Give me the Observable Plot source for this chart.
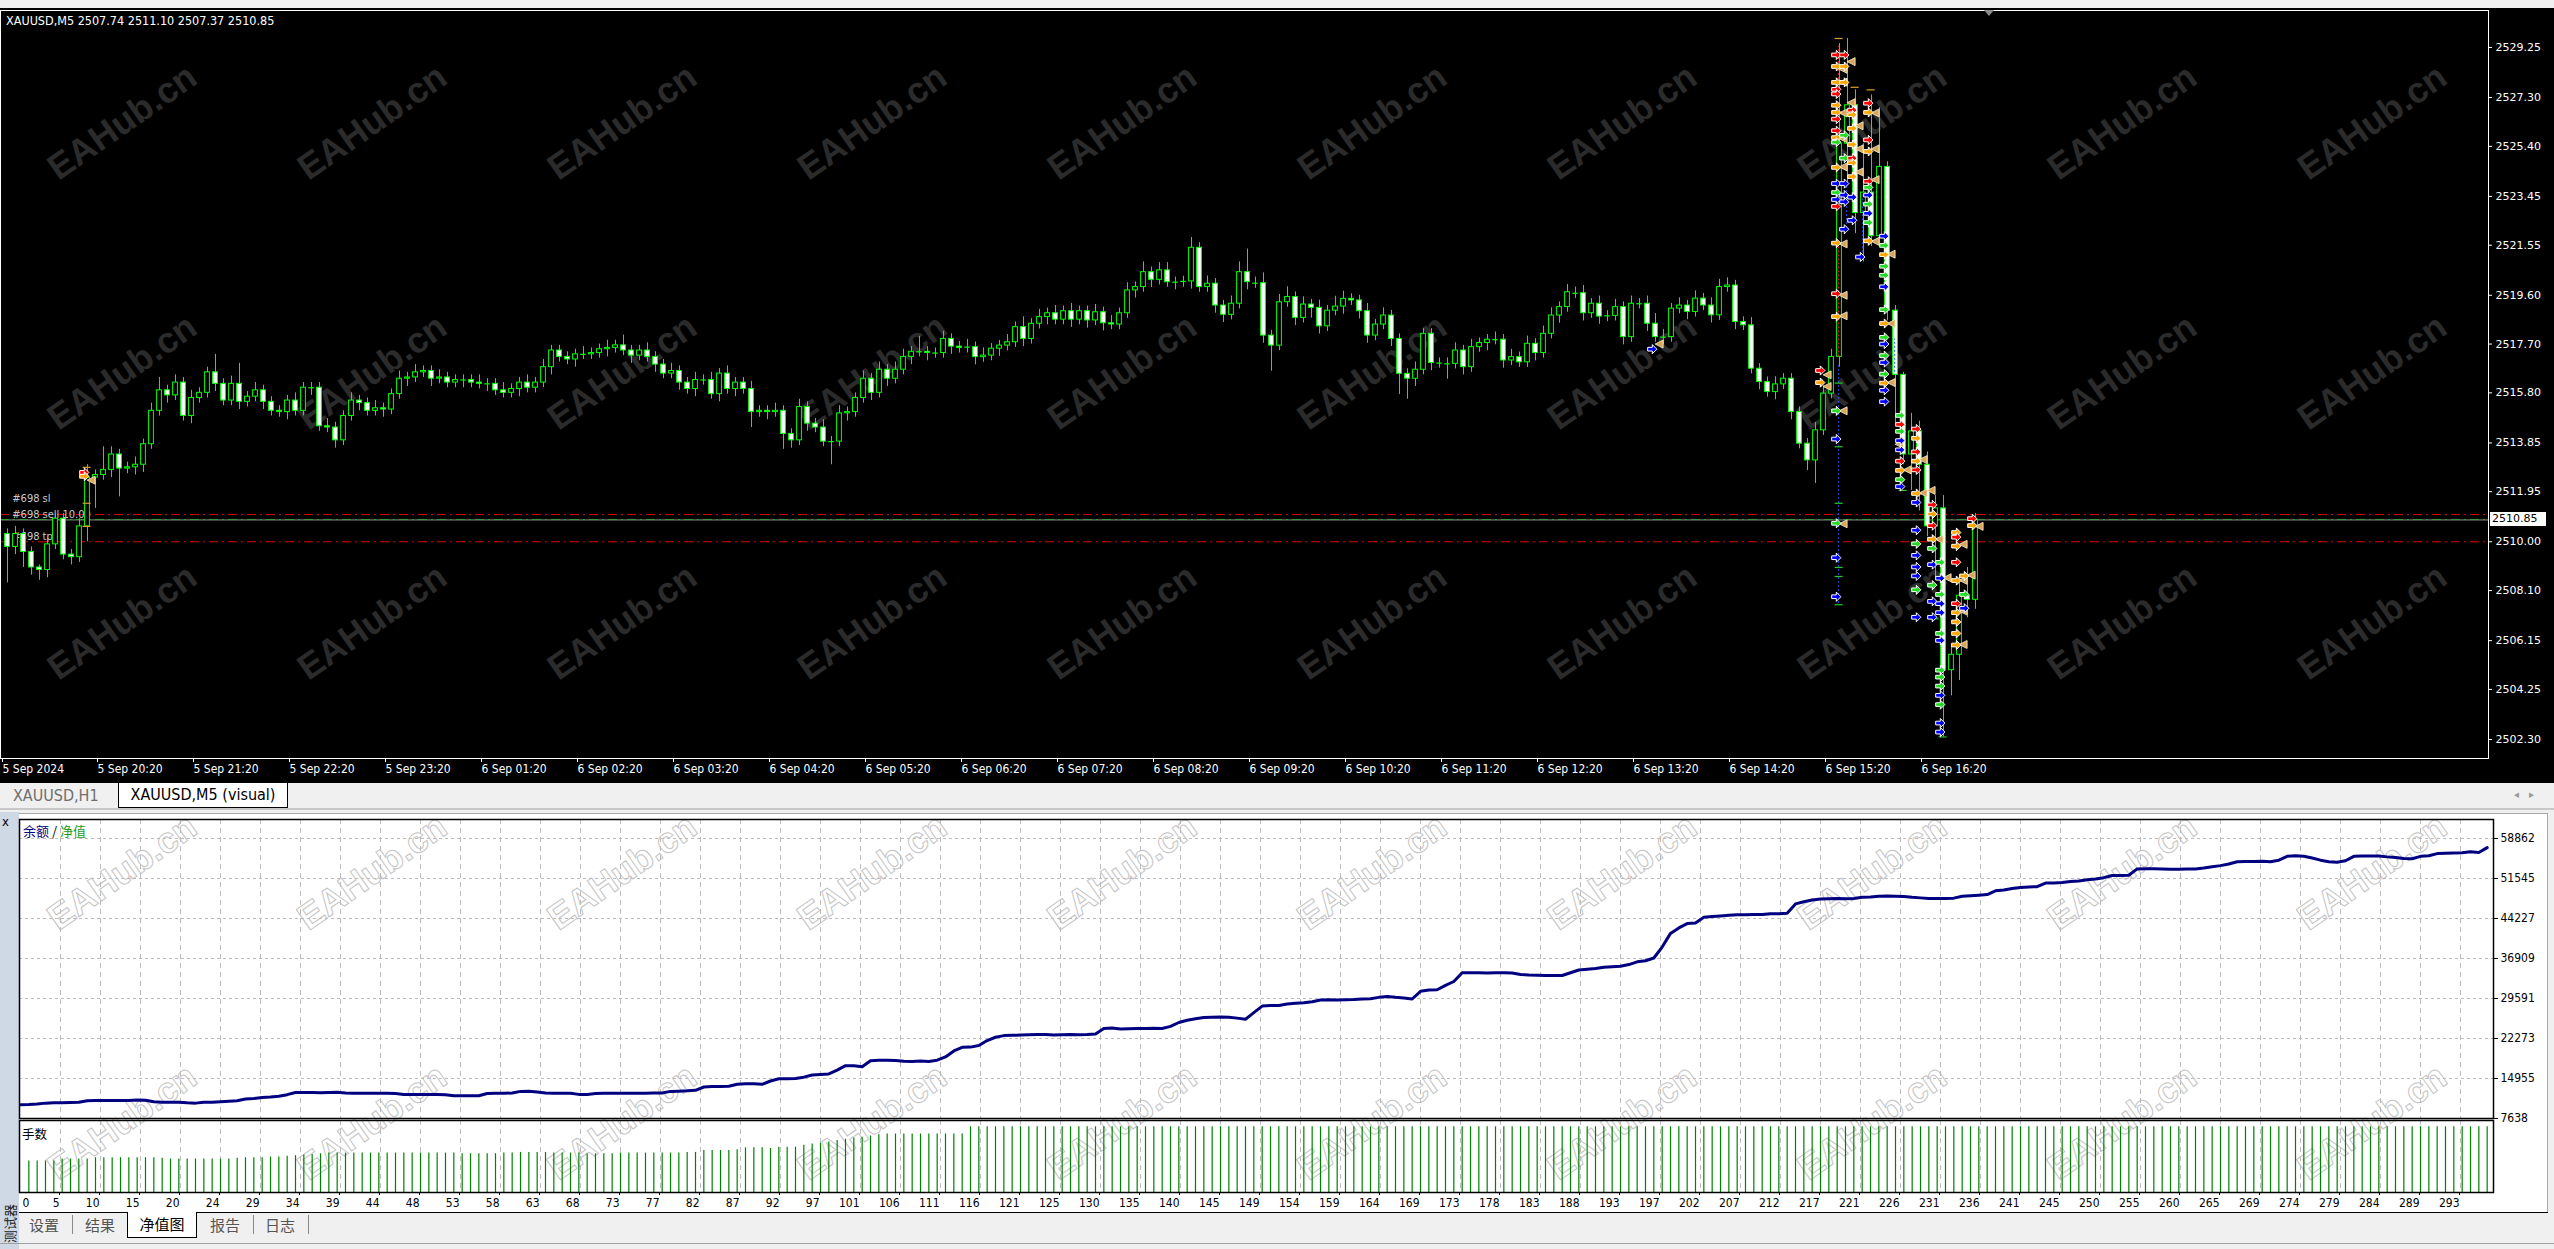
<!DOCTYPE html>
<html>
<head>
<meta charset="utf-8">
<script src="https://cdn.jsdelivr.net/npm/d3@7"></script>
<script src="https://cdn.jsdelivr.net/npm/@observablehq/plot@0.6"></script>
<style>
  body { margin: 0; width: 2554px; height: 1249px; overflow: hidden; background: #f0f0f0; position: relative;
         font-family: "DejaVu Sans Condensed", "DejaVu Sans", sans-serif; }
  .abs { position: absolute; white-space: nowrap; }
  .cjk { font-family: "Noto Sans CJK SC", sans-serif; }
  .wm { position: absolute; font-family: "Liberation Sans", Arial, sans-serif; font-weight: bold; font-size: 36px;
        transform: translate(-50%, -50%) rotate(-35deg); pointer-events: none; white-space: nowrap; }
</style>
</head>
<body>
<script>
const COND = "DejaVu Sans Condensed, DejaVu Sans, sans-serif";

// ---- price chart (XAUUSD M5) ----
const lastBar = [2507.74, 2511.10, 2507.37, 2510.85];
const firstOpen = 2510.30;
const closes = [
  2509.80, 2510.30, 2509.60, 2509.00, 2508.90, 2509.90, 2510.90, 2509.50, 2509.40, 2510.60,
  2512.50, 2512.60, 2512.80, 2513.40, 2512.85, 2512.90, 2513.00, 2513.80, 2515.10, 2515.90,
  2515.70, 2516.20, 2514.90, 2515.60, 2515.80, 2516.60, 2516.15, 2515.50, 2516.15, 2515.45,
  2515.65, 2515.90, 2515.45, 2515.10, 2515.05, 2515.50, 2515.10, 2516.00, 2516.00, 2514.50,
  2514.45, 2513.95, 2514.90, 2515.50, 2515.40, 2515.10, 2515.20, 2515.15, 2515.75, 2516.35,
  2516.40, 2516.60, 2516.65, 2516.35, 2516.40, 2516.20, 2516.30, 2516.30, 2516.20, 2516.15,
  2516.15, 2515.90, 2515.80, 2515.95, 2516.20, 2516.00, 2516.20, 2516.80, 2517.45, 2517.20,
  2517.10, 2517.30, 2517.30, 2517.35, 2517.50, 2517.55, 2517.65, 2517.45, 2517.25, 2517.45,
  2517.20, 2516.90, 2516.55, 2516.65, 2516.20, 2515.95, 2516.30, 2516.30, 2515.75, 2516.55,
  2515.95, 2516.20, 2515.95, 2515.05, 2515.10, 2515.05, 2515.10, 2514.20, 2513.95, 2515.25,
  2514.60, 2514.45, 2513.90, 2513.90, 2515.00, 2515.05, 2515.60, 2516.35, 2515.80, 2516.70,
  2516.35, 2516.70, 2517.20, 2517.40, 2517.40, 2517.35, 2517.35, 2517.90, 2517.60, 2517.55,
  2517.58, 2517.19, 2517.25, 2517.52, 2517.64, 2517.77, 2518.36, 2517.90, 2518.49, 2518.75,
  2518.90, 2518.65, 2518.98, 2518.65, 2518.98, 2518.62, 2518.94, 2518.51, 2518.46, 2518.90,
  2519.79, 2519.92, 2520.50, 2520.20, 2520.57, 2520.11, 2520.11, 2520.14, 2521.45, 2519.92,
  2520.05, 2519.20, 2518.84, 2519.27, 2520.50, 2520.11, 2520.07, 2518.03, 2517.64, 2519.33,
  2519.53, 2518.72, 2519.24, 2519.11, 2518.39, 2519.00, 2519.16, 2519.46, 2519.40, 2518.98,
  2518.03, 2518.46, 2518.81, 2517.90, 2516.54, 2516.35, 2516.70, 2518.10, 2516.96, 2516.96,
  2516.93, 2517.45, 2516.80, 2517.58, 2517.74, 2517.87, 2517.87, 2517.06, 2517.19, 2516.99,
  2517.71, 2517.35, 2518.10, 2518.81, 2519.14, 2519.72, 2519.68, 2518.90, 2519.27, 2518.77,
  2518.80, 2519.14, 2517.97, 2519.27, 2519.27, 2518.49, 2517.97, 2517.97, 2519.08, 2519.20,
  2518.95, 2519.47, 2519.20, 2518.82, 2519.92, 2519.98, 2518.56, 2518.43, 2516.74, 2516.22,
  2515.83, 2516.13, 2516.35, 2515.05, 2513.82, 2513.17, 2514.34, 2515.77, 2517.20, 2525.50,
  2527.00, 2522.80, 2523.60, 2521.90, 2524.60, 2519.00, 2516.50, 2513.40, 2514.30, 2513.00,
  2510.60, 2511.30, 2505.00, 2505.60, 2507.90, 2507.74, 2510.85
];
// wick lengths in tenths of a dollar above / below the body
const wickUp = [
  2,3,2,2,1,3,2,2,2,3, 5,2,9,3,2,2,3,2,3,5, 2,3,2,3,2,2,7,2,3,8, 2,3,2,2,2,2,3,2,2,2,
  3,2,2,3,2,2,3,2,2,3, 2,3,2,2,3,2,2,2,2,3, 2,2,3,2,2,3,2,3,2,2, 2,2,3,2,2,3,2,4,2,2,
  3,2,2,3,2,2,3,2,3,2, 3,2,2,3,2,2,3,2,2,3, 2,2,3,2,3,2,2,3,2,3, 2,3,3,2,6,2,2,3,2,2,
  3,2,3,2,2,3,2,4,2,3, 2,3,2,3,2,2,3,2,3,2, 3,2,4,2,3,3,2,2,4,2, 3,2,2,3,4,9,2,4,2,3,
  4,2,3,2,3,2,4,3,2,2, 3,2,3,2,2,2,3,2,2,2, 2,3,2,3,2,2,3,2,3,2, 3,2,3,3,2,3,2,3,2,3,
  2,3,2,3,2,3,4,3,2,3, 2,3,2,3,3,3,2,2,3,2, 2,3,2,2,2,2,3,3,3,39, 26,6,19,38,23,2,2,1,7,4,
  5,5,5,4,8,11,2.5
];
const wickDn = [
  14,3,6,3,4,3,2,2,3,2, 6,12,2,3,11,2,3,3,2,2, 3,2,2,3,2,2,3,2,2,3, 2,2,3,2,2,3,2,2,3,2,
  2,3,2,2,3,2,2,3,2,2, 3,2,2,3,2,2,2,3,2,2, 3,2,2,2,3,2,2,2,3,2, 2,3,2,2,2,3,2,2,3,2,
  2,3,2,2,3,2,3,2,2,3, 2,3,2,6,2,3,2,6,3,2, 3,2,2,9,2,3,2,2,3,2, 3,2,2,3,2,3,2,2,3,2,
  2,3,2,2,3,2,2,3,2,2, 3,2,2,3,2,3,2,3,2,2, 2,3,2,3,2,2,3,2,3,2, 2,3,3,2,2,3,2,3,10,2,
  2,3,2,4,3,2,2,3,2,3, 3,2,2,3,8,8,3,2,3,2, 6,2,3,2,2,3,2,3,2,2, 2,3,2,2,3,2,2,3,2,3,
  2,2,3,2,2,3,2,3,2,2, 3,2,2,3,2,2,3,2,2,3, 2,3,2,3,2,4,9,2,2,4, 15,8,19,4,3,4,19,4,14,18,
  4,20,26,10,10,7,3.7
];
const priceTicks = [2529.25, 2527.30, 2525.40, 2523.45, 2521.55, 2519.60, 2517.70, 2515.80,
  2513.85, 2511.95, 2510.00, 2508.10, 2506.15, 2504.25, 2502.30];
const timeTickIdx = [-0.875, 11, 23, 35, 47, 59, 71, 83, 95, 107, 119, 131, 143, 155, 167, 179, 191, 203, 215, 227, 239];
const timeLabels = ["5 Sep 2024", "5 Sep 20:20", "5 Sep 21:20", "5 Sep 22:20", "5 Sep 23:20", "6 Sep 01:20",
  "6 Sep 02:20", "6 Sep 03:20", "6 Sep 04:20", "6 Sep 05:20", "6 Sep 06:20", "6 Sep 07:20", "6 Sep 08:20",
  "6 Sep 09:20", "6 Sep 10:20", "6 Sep 11:20", "6 Sep 12:20", "6 Sep 13:20", "6 Sep 14:20", "6 Sep 15:20", "6 Sep 16:20"];
const slLevel = 2511.06, openLevel = 2510.87, tpLevel = 2510.00;
const orderLabels = [["#698 sl", 2511.06, -13], ["#698 sell 10.00", 2510.87, -1], ["#698 tp", 2510.00, -2]];

// trade arrows: [candle, price, kind]  r=sell open, b=buy open, g/o=closes
const arrows = [
  [10,2512.70,"r"],[10,2512.55,"o"],[206,2517.50,"b"],[227,2516.67,"r"],[227,2516.20,"o"],
  [229,2528.96,"r"],[229,2528.51,"o"],[229,2527.89,"o"],[229,2527.62,"r"],[229,2527.44,"r"],[229,2527.00,"o"],
  [229,2526.72,"o"],[229,2526.46,"r"],[229,2526.01,"r"],[229,2525.74,"o"],[229,2525.56,"g"],[229,2524.58,"o"],
  [229,2523.95,"b"],[229,2523.60,"g"],[229,2523.33,"b"],[229,2523.06,"r"],[229,2521.63,"o"],[229,2519.66,"r"],
  [229,2518.77,"o"],[229,2515.10,"g"],[229,2514.00,"b"],[229,2510.72,"g"],[229,2509.38,"b"],[229,2507.86,"b"],
  [230,2528.96,"r"],[230,2528.51,"o"],[230,2527.89,"o"],[230,2525.83,"g"],[230,2524.94,"g"],[230,2523.95,"b"],
  [230,2523.50,"b"],[230,2523.24,"b"],[230,2522.17,"b"],
  [231,2526.81,"r"],[231,2526.63,"o"],[231,2526.10,"o"],[231,2525.47,"o"],[231,2524.94,"r"],[231,2524.76,"o"],
  [231,2524.22,"o"],[231,2523.42,"b"],[231,2522.52,"b"],[232,2521.09,"b"],
  [233,2527.08,"r"],[233,2526.72,"o"],[233,2525.65,"r"],[233,2525.20,"o"],[233,2524.04,"r"],[233,2523.80,"g"],
  [233,2523.50,"b"],[233,2523.15,"g"],[233,2522.79,"b"],[233,2522.43,"g"],[233,2521.72,"o"],
  [235,2521.90,"b"],[235,2521.54,"g"],[235,2521.18,"o"],[235,2520.73,"g"],[235,2520.38,"g"],[235,2519.93,"b"],
  [235,2519.04,"g"],[235,2518.50,"o"],[235,2517.96,"g"],[235,2517.70,"b"],[235,2517.25,"g"],[235,2516.98,"b"],
  [235,2516.53,"g"],[235,2516.18,"o"],[235,2515.90,"b"],[235,2515.46,"b"],
  [237,2514.92,"g"],[237,2514.57,"r"],[237,2514.30,"g"],[237,2513.94,"b"],[237,2513.58,"b"],[237,2513.14,"r"],
  [237,2512.78,"o"],[237,2512.42,"g"],[237,2512.15,"b"],
  [239,2514.39,"r"],[239,2514.03,"o"],[239,2513.50,"r"],[239,2513.14,"o"],[239,2512.80,"r"],[239,2511.88,"o"],
  [239,2511.53,"b"],[239,2510.45,"b"],[239,2509.92,"g"],[239,2509.47,"b"],[239,2509.02,"b"],[239,2508.67,"b"],
  [239,2508.13,"g"],[239,2507.06,"b"],
  [241,2511.44,"r"],[241,2511.08,"o"],[241,2510.63,"r"],[241,2510.10,"o"],[241,2509.74,"g"],[241,2509.11,"b"],
  [241,2508.31,"g"],[241,2507.68,"b"],[241,2507.06,"b"],
  [242,2509.20,"g"],[242,2508.58,"b"],[242,2507.95,"g"],[242,2507.59,"b"],[242,2507.24,"b"],[242,2506.43,"g"],
  [242,2506.16,"b"],[242,2505.00,"g"],[242,2504.73,"g"],[242,2504.38,"g"],[242,2504.02,"b"],[242,2503.66,"g"],
  [242,2502.94,"b"],[242,2502.59,"b"],
  [244,2507.59,"r"],[244,2507.24,"o"],[244,2506.88,"o"],[244,2506.43,"o"],[244,2505.98,"o"],[244,2510.36,"o"],
  [244,2510.18,"r"],[244,2509.83,"o"],[244,2509.20,"r"],[244,2508.49,"o"],
  [245,2508.67,"o"],[245,2507.95,"g"],[245,2507.41,"b"],[246,2510.90,"r"],[246,2510.63,"o"]
];
const closeMarks = [
  [10,2512.40],[206,2517.70],[227,2516.50],[227,2516.05],[229,2528.40],[229,2527.90],[229,2526.70],[229,2525.70],
  [229,2524.60],[229,2521.60],[229,2519.60],[229,2518.80],[229,2515.10],[229,2510.70],[230,2528.70],[230,2527.10],
  [231,2526.20],[231,2525.30],[231,2524.40],[233,2526.70],[233,2525.30],[233,2524.10],[233,2521.70],[235,2521.20],
  [235,2518.50],[235,2516.20],[236,2513.80],[237,2512.80],[239,2513.20],[239,2511.90],[240,2512.00],[241,2510.10],
  [242,2508.60],[244,2507.30],[244,2506.00],[244,2509.90],[244,2508.50],[245,2508.70],[246,2510.60]
];
const tradeLines = [
  [229, 2507.6, 2516.9, "#2050ff"], [229, 2517.2, 2521.7, "#ff2020"], [229, 2528.0, 2529.3, "#ff2020"],
  [230, 2522.2, 2524.0, "#2050ff"], [232, 2521.1, 2523.5, "#2050ff"], [236, 2516.6, 2517.9, "#2050ff"]
];
const levelDashes = [
  [229,2516.18,"g"],[229,2513.70,"g"],[229,2511.50,"g"],[229,2509.00,"g"],[229,2508.65,"g"],[229,2507.55,"g"],
  [10,2511.50,"o"],[10,2510.60,"o"],[10,2512.90,"o"],[229,2529.60,"o"],[231,2527.70,"o"],[233,2527.60,"o"],
  [237,2512.00,"g"],[241,2507.00,"g"],[242,2502.40,"g"]
];

// ---- equity / balance chart ----
const balance = [
  10150,10200,10300,10450,10500,10520,10550,10600,10900,10940,
  10930,10930,10930,10950,11000,10980,10700,10620,10620,10600,
  10500,10450,10600,10620,10700,10800,10900,11200,11300,11500,
  11550,11700,12000,12400,12400,12380,12350,12400,12450,12300,
  12280,12280,12270,12270,12260,12200,12050,12030,12030,12020,
  12020,12000,11800,11790,11790,11800,12200,12250,12260,12300,
  12600,12640,12500,12300,12280,12280,12270,12050,12030,12200,
  12270,12270,12280,12270,12270,12280,12290,12300,12600,12640,
  12700,12800,13400,13500,13500,13550,13900,14000,13980,13900,
  14500,14900,14900,14950,15200,15600,15700,15800,16500,17300,
  17300,17100,18200,18300,18300,18250,18100,18050,18150,18050,
  18300,18900,20000,20650,20700,21000,21900,22500,22800,22850,
  22900,22950,23000,23000,22900,22950,23000,22950,23000,23100,
  24100,24200,24000,24050,24100,24100,24150,24100,24500,25200,
  25600,25900,26100,26150,26200,26150,26000,25800,27000,28200,
  28300,28300,28600,28700,28800,29000,29300,29350,29300,29350,
  29400,29500,29550,29800,29950,29800,29700,29500,30900,31150,
  31200,32000,32700,34300,34300,34300,34250,34300,34300,34250,
  34000,33900,33850,33800,33800,33800,34300,34800,34950,35100,
  35300,35400,35500,35800,36300,36500,37000,39000,41500,42500,
  43300,43400,44450,44600,44700,44800,44900,44900,44950,44950,
  45100,45100,45200,46900,47300,47600,47800,47850,47900,47850,
  47900,48100,48150,48300,48350,48300,48250,48100,48000,47900,
  47900,47900,47950,48300,48400,48500,48600,49300,49450,49700,
  49900,50000,50050,50700,50700,50800,51000,51100,51300,51450,
  51700,52100,52100,52150,53300,53350,53350,53300,53250,53250,
  53300,53300,53450,53700,53900,54200,54600,54650,54650,54700,
  54600,54900,55600,55700,55600,55300,54900,54600,54500,54800,
  55600,55650,55650,55650,55500,55400,55200,55150,55600,55700,
  56100,56150,56200,56250,56450,56300,57200
];
const eqTicks = [7638, 14955, 22273, 29591, 36909, 44227, 51545, 58862];
const eqXLabels = ["0","5","10","15","20","24","29","34","39","44","48","53","58","63","68","73","77","82","87","92",
  "97","101","106","111","116","121","125","130","135","140","145","149","154","159","164","169","173","178","183","188",
  "193","197","202","207","212","217","221","226","231","236","241","245","250","255","260","265","269","274","279","284",
  "289","293"];

// ---- lots per trade (starting at trade 1) ----
const lots = [
  4.8,4.8,4.8,4.8,5.1,5.1,5.1,5.1,5.3,5.3, 5.3,5.3,5.3,5.3,5.3,5.3,5.2,5.1,5.1,5.1,
  5.1,5.1,5.1,5.1,5.1,5.2,5.3,5.3,5.3,5.4, 5.4,5.5,5.6,5.7,5.8,5.9,6.0,6.0,6.0,6.0,
  6.0,6.0,6.0,6.0,6.0,6.0,6.0,6.0,6.0,6.0, 6.0,6.0,5.9,5.9,5.9,5.9,5.9,6.0,6.0,6.1,
  6.1,6.1,6.1,6.0,6.0,6.0,6.0,5.9,5.9,5.9, 5.9,6.0,6.0,6.0,6.0,6.0,6.0,6.0,6.0,6.1,
  6.1,6.4,6.4,6.4,6.4,6.5,6.8,6.8,6.8,6.7, 6.9,6.9,6.9,7.2,7.4,7.5,7.7,7.9,8.1,8.3,
  8.4,8.6,8.8,8.9,8.9,8.9,8.9,8.9,8.9,8.9, 8.9,8.9,8.9,
  10,10,10,10,10,10,10,10,10,10,10,10,10,10,10,10,10,10,10,10,
  10,10,10,10,10,10,10,10,10,10,10,10,10,10,10,10,10,10,10,10,
  10,10,10,10,10,10,10,10,10,10,10,10,10,10,10,10,10,10,10,10,
  10,10,10,10,10,10,10,10,10,10,10,10,10,10,10,10,10,10,10,10,
  10,10,10,10,10,10,10,10,10,10,10,10,10,10,10,10,10,10,10,10,
  10,10,10,10,10,10,10,10,10,10,10,10,10,10,10,10,10,10,10,10,
  10,10,10,10,10,10,10,10,10,10,10,10,10,10,10,10,10,10,10,10,
  10,10,10,10,10,10,10,10,10,10,10,10,10,10,10,10,10,10,10,10,
  10,10,10,10,10,10,10,10,10,10,10,10,10,10,10,10,10,10,10,10,
  10,10,10
];

// ---------------------------------------------------------------
function box(style, text, cls) {
  const d = document.createElement("div");
  d.className = "abs" + (cls ? " " + cls : "");
  Object.assign(d.style, style);
  if (text != null) d.textContent = text;
  document.body.append(d);
  return d;
}

// black chart window
box({left: "0px", top: "8px", width: "2554px", height: "775px", background: "#000", zIndex: 0});
// tester window panels
box({left: "19px", top: "813px", width: "2528px", height: "399px", background: "#fff",
     borderTop: "1px solid #a8a8a8", borderRight: "1px solid #a8a8a8", zIndex: 0});
box({left: "0px", top: "812px", width: "19px", height: "437px", background: "#cfd9e6", zIndex: 0});
box({left: "0px", top: "808px", width: "2554px", height: "2px", background: "#c8c8c8", zIndex: 0});
box({left: "0px", top: "1243px", width: "2554px", height: "1px", background: "#a0a0a0", zIndex: 0});

// watermarks
for (let r = 0; r < 5; r++) {
  for (let k = 0; k < 10; k++) {
    const w = box({left: (122 + 250 * k) + "px", top: (122 + 250 * r) + "px"}, "EAHub.cn");
    w.className = "wm";
    w.style.zIndex = 1;
    if (r < 3) w.style.color = "#2b2b2b";
    else { w.style.color = "rgba(255,255,255,0)"; w.style.webkitTextStroke = "1px #c4c4c4"; }
  }
}

// ---- price chart ----
const candles = closes.map((c, i) => {
  const o = i === 0 ? firstOpen : closes[i - 1];
  return {i, o, c, h: Math.max(o, c) + wickUp[i] / 10, l: Math.min(o, c) - wickDn[i] / 10};
});
const bodies = candles.filter(d => Math.abs(d.c - d.o) >= 0.04);
const dojis = candles.filter(d => Math.abs(d.c - d.o) < 0.04);
const timeLabelOf = new Map(timeTickIdx.map((t, k) => [t, timeLabels[k]]));
const arrowColor = {r: "#ff0000", o: "#ffa500", g: "#22dd22", b: "#0000ff"};
const dashColor = {g: "#22cc22", o: "#e0a030"};

const arrowRight = {
  draw(ctx, size) {
    const s = Math.sqrt(size / Math.PI);
    ctx.moveTo(-s, -s * 0.4); ctx.lineTo(0, -s * 0.4); ctx.lineTo(0, -s); ctx.lineTo(s, 0);
    ctx.lineTo(0, s); ctx.lineTo(0, s * 0.4); ctx.lineTo(-s, s * 0.4); ctx.closePath();
  }
};
const triLeft = {
  draw(ctx, size) {
    const s = Math.sqrt(size / Math.PI);
    ctx.moveTo(s, -s); ctx.lineTo(-s, 0); ctx.lineTo(s, s); ctx.closePath();
  }
};

// one text mark per order label so each can sit at its own offset
const orderLabelMarks = orderLabels.map(([t, p, off]) =>
  Plot.text([p], {x: 0.6, y: d => d, dy: off, text: () => t, textAnchor: "start",
    lineAnchor: "bottom", fill: "#c8c8c8", fontSize: 11}));

const priceChart = Plot.plot({
  width: 2554, height: 773,
  marginTop: 1, marginRight: 66, marginBottom: 24, marginLeft: 0,
  style: {background: "transparent", overflow: "visible", fontFamily: COND},
  x: {domain: [-0.875, 310.125], axis: null},
  y: {domain: [2501.56, 2530.69], axis: null},
  marks: [
    Plot.ruleY([slLevel, tpLevel], {stroke: "#e00000", strokeWidth: 1, strokeDasharray: "9,4,2,4"}),
    Plot.ruleY([lastBar[3]], {stroke: "#8c948c", strokeWidth: 1}),
    Plot.ruleY([openLevel], {stroke: "#3c9c3c", strokeWidth: 1, strokeDasharray: "9,4,2,4"}),
    ...orderLabelMarks,
    Plot.ruleX(candles, {x: "i", y1: "l", y2: "h", stroke: "#00ff00", strokeWidth: 1}),
    Plot.rect(bodies, {x1: d => d.i - 0.3, x2: d => d.i + 0.3, y1: "o", y2: "c",
      fill: d => d.c < d.o ? "#ffffff" : "#000000", stroke: "#00ff00", strokeWidth: 1}),
    Plot.ruleY(dojis, {y: "c", x1: d => d.i - 0.35, x2: d => d.i + 0.35, stroke: "#00ff00", strokeWidth: 1.2}),
    Plot.ruleX(tradeLines, {x: d => d[0] - 0.1, y1: d => d[1], y2: d => d[2], stroke: d => d[3],
      strokeWidth: 1, strokeDasharray: "2,2"}),
    Plot.ruleY(levelDashes, {y: d => d[1], x1: d => d[0] - 0.55, x2: d => d[0] + 0.45,
      stroke: d => dashColor[d[2]], strokeWidth: 1.2}),
    Plot.dot(closeMarks, {x: d => d[0] + 0.45, y: d => d[1], symbol: triLeft, r: 4,
      fill: "#d9a55a", stroke: "#fff3d0", strokeWidth: 0.8}),
    Plot.dot(arrows, {x: d => d[0] - 0.4, y: d => d[1], symbol: arrowRight, r: 4.6,
      fill: d => arrowColor[d[2]], stroke: "#ffffff", strokeWidth: 1}),
    Plot.frame({stroke: "#ffffff", strokeWidth: 1}),
    Plot.axisY(priceTicks, {anchor: "right", tickSize: 3, tickPadding: 4, label: null,
      tickFormat: d => d.toFixed(2), stroke: "#ffffff", fill: "#ffffff",
      fontFamily: "DejaVu Sans, sans-serif", fontSize: 11}),
    Plot.axisX(timeTickIdx, {anchor: "bottom", tickSize: 4, tickPadding: 2, label: null,
      tickFormat: d => timeLabelOf.get(d), textAnchor: "start", dx: 2,
      stroke: "#ffffff", fill: "#ffffff", fontSize: 12})
  ]
});
const priceWrap = box({left: "0px", top: "9px", zIndex: 2});
priceWrap.append(priceChart);

// current price tag
const yPrice = priceChart.scale("y");
box({left: "2490px", top: (9 + yPrice.apply(lastBar[3]) - 7) + "px", width: "56px", height: "14px",
     background: "#fff", color: "#000", font: "11px 'DejaVu Sans', sans-serif", lineHeight: "14px",
     paddingLeft: "2px", boxSizing: "border-box", zIndex: 3}, lastBar[3].toFixed(2));
// header
box({left: "6px", top: "13px", color: "#fff", fontSize: "12.5px", zIndex: 3},
    "XAUUSD,M5  " + lastBar.map(v => v.toFixed(2)).join(" "));
// chart shift marker
box({left: "1984px", top: "10px", width: "0px", height: "0px", borderLeft: "5px solid transparent",
     borderRight: "5px solid transparent", borderTop: "6px solid #8a8a8a", zIndex: 3});

// chart tabs
box({left: "13px", top: "785px", color: "#6e6e6e", fontSize: "16px", lineHeight: "22px", zIndex: 2}, "XAUUSD,H1");
box({left: "118px", top: "783px", width: "170px", height: "25px", background: "#fff", color: "#000",
     border: "1px solid #000", borderTop: "none", boxSizing: "border-box", textAlign: "center",
     fontSize: "16px", lineHeight: "23px", zIndex: 2}, "XAUUSD,M5 (visual)");
box({left: "2514px", top: "788px", color: "#9a9a9a", fontSize: "11px", letterSpacing: "10px", zIndex: 2}, "◂▸");

// ---- equity chart ----
const eqXTicks = eqXLabels.map((s, k) => k * 4.8);
const eqData = balance.map((v, t) => ({t, v}));
const equityChart = Plot.plot({
  width: 2554, height: 310,
  marginTop: 9, marginRight: 61, marginBottom: 2, marginLeft: 19,
  style: {background: "transparent", overflow: "visible", fontFamily: COND},
  x: {domain: [-0.12, 296.76], axis: null},
  y: {domain: [7638, 62338], axis: null},
  marks: [
    Plot.gridX(eqXTicks.slice(1), {stroke: "#bdbdbd", strokeOpacity: 1, strokeDasharray: "5,4"}),
    Plot.gridY(eqTicks.slice(1), {stroke: "#bdbdbd", strokeOpacity: 1, strokeDasharray: "3,3"}),
    Plot.line(eqData, {x: "t", y: "v", stroke: "#1a9a1a", strokeWidth: 1}),
    Plot.line(eqData, {x: "t", y: "v", stroke: "#000080", strokeWidth: 3}),
    Plot.frame({stroke: "#000", strokeWidth: 1.5}),
    Plot.axisY(eqTicks, {anchor: "right", tickSize: 4, tickPadding: 3, label: null, tickFormat: d => String(d),
      stroke: "#000", fill: "#000", fontSize: 12})
  ]
});
box({left: "0px", top: "810px", zIndex: 2}).append(equityChart);
const legend = box({left: "23px", top: "821px", fontSize: "13px", zIndex: 3}, null, "cjk");
legend.innerHTML = '<span style="color:#000080">余额</span><span style="color:#000"> / </span><span style="color:#1a9a1a">净值</span>';

// ---- lots chart ----
const lotData = lots.map((v, j) => ({t: j + 1, v}));
const lotsChart = Plot.plot({
  width: 2554, height: 95,
  marginTop: 1, marginRight: 61, marginBottom: 22, marginLeft: 19,
  style: {background: "transparent", overflow: "visible", fontFamily: COND},
  x: {domain: [-0.12, 296.76], axis: null},
  y: {domain: [0, 10.96], axis: null},
  marks: [
    Plot.gridX(eqXTicks.slice(1), {stroke: "#bdbdbd", strokeOpacity: 1, strokeDasharray: "5,4"}),
    Plot.ruleX(lotData, {x: "t", y1: 0, y2: "v", stroke: "#008000", strokeWidth: 1.2}),
    Plot.frame({stroke: "#000", strokeWidth: 1.5}),
    Plot.axisX(eqXTicks.slice(1), {anchor: "bottom", tickSize: 3, tickPadding: 3, label: null,
      tickFormat: d => eqXLabels[Math.round(d / 4.8)], textAnchor: "end", dx: -1,
      stroke: "#000", fill: "#000", fontSize: 12}),
    Plot.axisX([0], {anchor: "bottom", tickSize: 0, tickPadding: 6, label: null,
      tickFormat: () => eqXLabels[0], textAnchor: "start", dx: 2, fill: "#000", fontSize: 12})
  ]
});
box({left: "0px", top: "1119px", zIndex: 2}).append(lotsChart);
box({left: "22px", top: "1124px", fontSize: "12.5px", color: "#000", zIndex: 3}, "手数", "cjk");

// tester side strip + tabs
box({left: "2px", top: "814px", fontSize: "13px", color: "#000", zIndex: 3}, "x");
box({left: "-16px", top: "1214px", width: "50px", fontSize: "13px", color: "#222", transform: "rotate(-90deg)",
     textAlign: "center", zIndex: 3}, "测试器", "cjk");
box({left: "19px", top: "1212px", width: "2529px", height: "1px", background: "#000", zIndex: 2});
const tabs = [["设置", 29], ["结果", 85], ["报告", 210], ["日志", 265]];
tabs.forEach(([t, x]) => box({left: x + "px", top: "1214px", fontSize: "15px", color: "#555", lineHeight: "22px", zIndex: 3}, t, "cjk"));
[72, 253, 308].forEach(x => box({left: x + "px", top: "1215px", width: "1px", height: "19px", background: "#8a8a8a", zIndex: 3}));
box({left: "127px", top: "1212px", width: "70px", height: "26px", background: "#fff", border: "1px solid #000",
     borderTop: "none", boxSizing: "border-box", textAlign: "center", fontSize: "15px", lineHeight: "23px",
     color: "#000", zIndex: 3}, "净值图", "cjk");
</script>
</body>
</html>
